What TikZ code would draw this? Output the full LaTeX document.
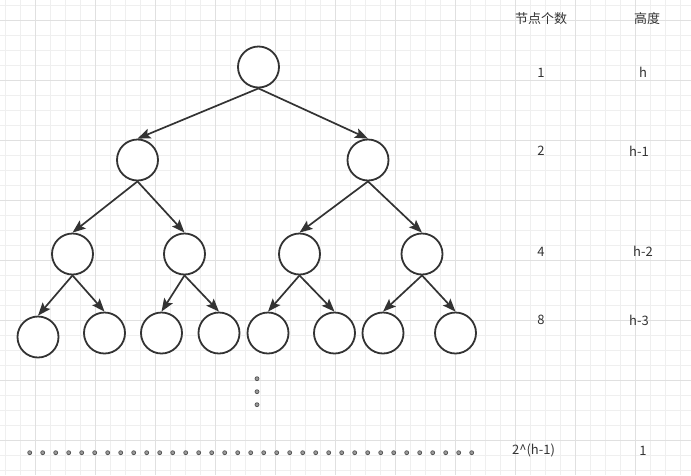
\documentclass[tikz,border=0pt]{standalone}
\usepackage{fontspec}
\setmainfont{Noto Sans CJK SC}
\usetikzlibrary{arrows.meta}
\definecolor{gridminor}{HTML}{EFEFEF}
\definecolor{gridmajor}{HTML}{E0E0E0}
\definecolor{ink}{HTML}{333333}
\definecolor{dotfill}{HTML}{9A9A9A}
\definecolor{dotline}{HTML}{555555}
\begin{document}
\begin{tikzpicture}[
    x=1pt, y=-1pt,
    treenode/.style={circle, minimum size=41, inner sep=0, draw=ink, line width=1.8, fill=white},
    edge/.style={draw=ink, line width=1.7, -{Stealth[length=13, width=10, inset=2.5]}},
    label/.style={text=ink, font=\fontsize{13}{15}\selectfont, inner sep=0},
    ellipsis/.style={draw=dotline, fill=dotfill, line width=0.7},
    ]

    \useasboundingbox (0,0) rectangle (691,475);

    % grid
    \foreach \x in {5,20,...,690} {
        \draw [gridminor, line width=0.8] (\x,0) -- (\x,475);
    }
    \foreach \y in {5,20,...,475} {
        \draw [gridminor, line width=0.8] (0,\y) -- (691,\y);
    }
    \foreach \x in {35,95,...,690} {
        \draw [gridmajor, line width=0.8] (\x,0) -- (\x,475);
    }
    \foreach \y in {20,80,...,475} {
        \draw [gridmajor, line width=0.8] (0,\y) -- (691,\y);
    }

    % tree
    \node (n0) [treenode] at (258.5,67) {};
    \node (n1) [treenode] at (137.5,160) {};
    \node (n2) [treenode] at (368,160) {};
    \node (n3) [treenode] at (72.5,254) {};
    \node (n4) [treenode] at (184.5,254) {};
    \node (n5) [treenode] at (299.5,254) {};
    \node (n6) [treenode] at (422,254) {};
    \node (n7) [treenode] at (38,337) {};
    \node (n8) [treenode] at (104.5,333) {};
    \node (n9) [treenode] at (161.5,333) {};
    \node (n10) [treenode] at (219,333) {};
    \node (n11) [treenode] at (268,333) {};
    \node (n12) [treenode] at (334.5,333) {};
    \node (n13) [treenode] at (383,333) {};
    \node (n14) [treenode] at (455.5,333) {};

    \foreach \p/\c in {0/1, 0/2, 1/3, 1/4, 2/5, 2/6, 3/7, 3/8,
                       4/9, 4/10, 5/11, 5/12, 6/13, 6/14} {
        \draw [edge] (n\p.south) -- (n\c.north);
    }

    % ellipses
    \foreach \y in {378.7, 391.7, 404.7} {
        \draw [ellipsis] (257,\y) circle (2);
    }
    \foreach \i in {0,...,34} {
        \draw [ellipsis] (29.7+13*\i,452.7) circle (2);
    }

    % table
    \node (count-head) [label] at (541,19) {节点个数};
    \node (height-head) [label] at (647,19) {高度};
    \node (count0) [label] at (541,72.5) {1};
    \node (height0) [label] at (643,72.5) {h};
    \node (count1) [label] at (541,151) {2};
    \node (height1) [label] at (639,151) {h-1};
    \node (count2) [label] at (541,251.5) {4};
    \node (height2) [label] at (643,251.5) {h-2};
    \node (count3) [label] at (541,320) {8};
    \node (height3) [label] at (639,320) {h-3};
    \node (countN) [label] at (533.5,450.5) {2\textasciicircum(h-1)};
    \node (heightN) [label] at (643,450.5) {1};
\end{tikzpicture}
\end{document}
